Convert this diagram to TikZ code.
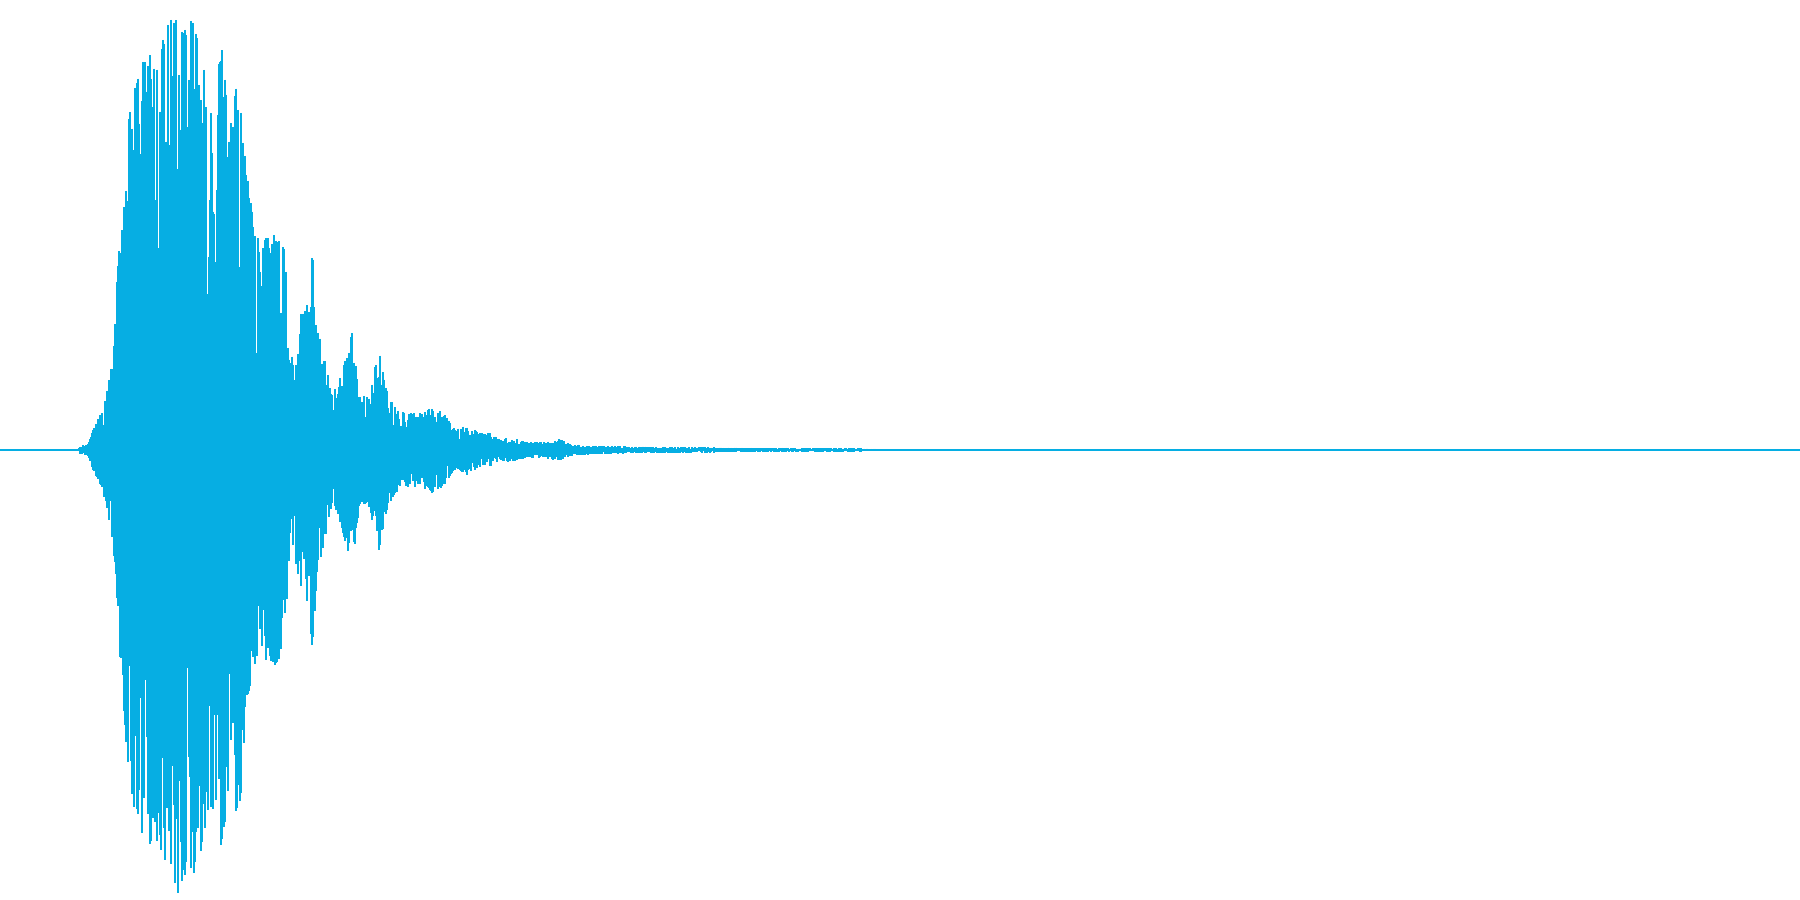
\documentclass[tikz,border=0pt]{standalone}
\usepackage{tikz}
\definecolor{wavecol}{HTML}{06AEE3}

\begin{document}
\begin{tikzpicture}[x=0.1mm, y=0.1mm, wave/.style = {draw=wavecol, line width=0.32pt}]
\fill[white] (0,-450) rectangle (1800,450);
\useasboundingbox (0,-450) rectangle (1800,450);
\pgfmathsetseed{42}
\draw[wave] (0,0) -- (1800,0);
\foreach \xa/\ya/\xb/\yb in {78/0/80/4, 80/4/88/6, 88/6/93/20, 93/20/100/35, 100/35/105/50, 105/50/110/75, 110/75/114/110, 114/110/117/170, 117/170/120/215, 120/215/125/280, 125/280/130/345, 130/345/137/370, 137/370/147/400, 147/400/155/390, 155/390/168/425, 168/425/178/445, 178/445/185/425, 185/425/195/432, 195/432/205/380, 205/380/213/360, 213/360/222/400, 222/400/232/320, 232/320/238/390, 238/390/245/295, 245/295/255/215, 255/215/262/210, 262/210/275/215, 275/215/285/200, 285/200/290/90, 290/90/300/135, 300/135/306/140, 306/140/312/205, 312/205/318/120, 318/120/325/90, 325/90/332/55, 332/55/340/72, 340/72/352/118, 352/118/360/55, 360/55/368/53, 368/53/379/100, 379/100/387/60, 387/60/395/43, 395/43/405/37, 405/37/420/37, 420/37/432/43, 432/43/443/38, 443/38/455/20, 455/20/467/25, 467/25/480/17, 480/17/490/17, 490/17/500/10, 500/10/510/13, 510/13/525/8, 525/8/545/8, 545/8/560/11, 560/11/570/6, 570/6/600/4, 600/4/670/3, 670/3/760/2, 760/2/850/2, 850/2/876/1} {
  \foreach \x in {\xa,...,\xb} {
    \pgfmathsetmacro\env{\ya+(\yb-\ya)*(\x-\xa)/(\xb-\xa)}
    \pgfmathsetmacro\ra{rnd}
    \pgfmathsetmacro\rb{rnd}
    \pgfmathsetmacro\up{\env*(1-0.6*\ra*\ra)}
    \pgfmathsetmacro\dn{\env*(1-0.6*\rb*\rb)}
    \draw[wave] (\x,\up) -- (\x,-\dn);
  }
}
\end{tikzpicture}
\end{document}
